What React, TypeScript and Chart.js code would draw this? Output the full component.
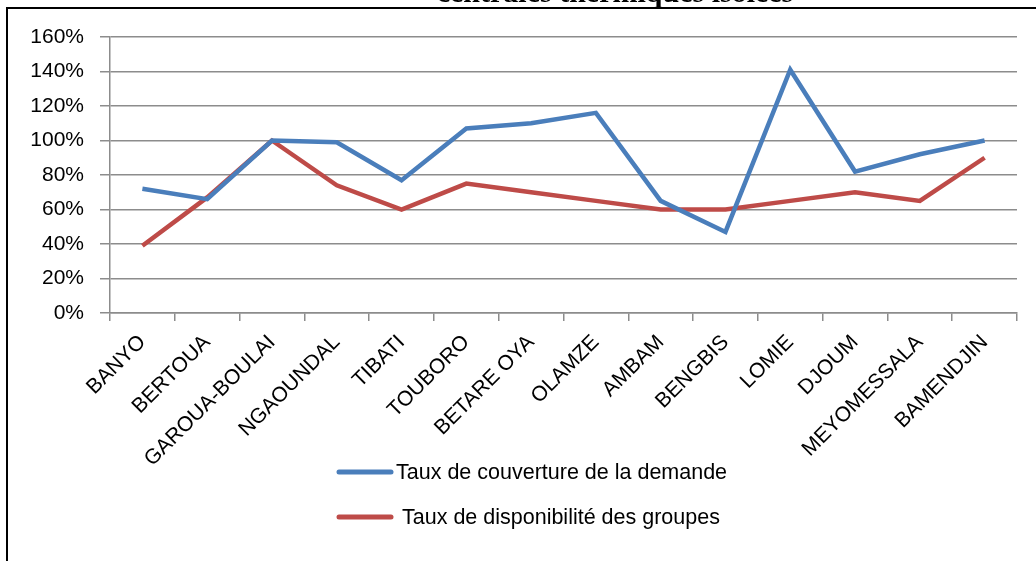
import React, { useEffect, useRef } from "react";
import { Chart, registerables } from "chart.js";

Chart.register(...registerables);

const categories = [
  "BANYO", "BERTOUA", "GAROUA-BOULAI", "NGAOUNDAL", "TIBATI", "TOUBORO", "BETARE OYA",
  "OLAMZE", "AMBAM", "BENGBIS", "LOMIE", "DJOUM", "MEYOMESSALA", "BAMENDJIN",
];
const couverture = [72, 66, 100, 99, 77, 107, 110, 116, 65, 47, 141, 82, 92, 100];
const disponibilite = [39, 67, 100, 74, 60, 75, 70, 65, 60, 60, 65, 70, 65, 90];
const seriesNames = ["Taux de couverture de la demande", "Taux de disponibilité des groupes"];
const titleText = "centrales thermiques isolées";

const FONT = "'Liberation Sans', Arial, sans-serif";

const framePlugin = {
  id: "framePlugin",
  afterDraw(chart: any) {
    const ctx = chart.ctx;
    ctx.save();
    // document border
    ctx.strokeStyle = "#000";
    ctx.lineWidth = 2;
    ctx.beginPath();
    ctx.moveTo(7, 561);
    ctx.lineTo(7, 8);
    ctx.lineTo(1036, 8);
    ctx.stroke();
    // cut-off title
    ctx.fillStyle = "#000";
    ctx.font = "bold 30px 'Liberation Serif', serif";
    ctx.textAlign = "center";
    ctx.textBaseline = "alphabetic";
    ctx.fillText(titleText, 615, 1.5);
    // legend
    const items = chart.data.datasets;
    const rows = [472, 517];
    items.forEach((ds: any, i: number) => {
      const y = rows[i];
      ctx.strokeStyle = ds.borderColor;
      ctx.lineWidth = 5;
      ctx.lineCap = "round";
      ctx.beginPath();
      ctx.moveTo(339, y);
      ctx.lineTo(391, y);
      ctx.stroke();
      ctx.fillStyle = "#000";
      ctx.font = "21.5px " + FONT;
      ctx.textAlign = "left";
      ctx.textBaseline = "middle";
      ctx.fillText(ds.label, i === 0 ? 396 : 402, y + 1);
    });
    ctx.restore();
  },
};

export default function App() {
  const ref = useRef<HTMLCanvasElement>(null);
  useEffect(() => {
    if (!ref.current) return;
    const chart = new Chart(ref.current, {
      type: "line",
      data: {
        labels: categories,
        datasets: [
          {
            label: seriesNames[0],
            data: couverture,
            borderColor: "#4A7EBB",
            backgroundColor: "#4A7EBB",
            borderWidth: 4.5,
            pointRadius: 0,
            tension: 0,
          },
          {
            label: seriesNames[1],
            data: disponibilite,
            borderColor: "#BE4B48",
            backgroundColor: "#BE4B48",
            borderWidth: 4.5,
            pointRadius: 0,
            tension: 0,
          },
        ],
      },
      options: {
        animation: false,
        responsive: false,
        maintainAspectRatio: false,
        layout: { padding: { top: 37, right: 19, left: 0, bottom: 0 } },
        plugins: {
          legend: { display: false },
          tooltip: { enabled: false },
          title: { display: false },
        },
        scales: {
          x: {
            offset: true,
            grid: {
              offset: true,
              drawOnChartArea: false,
              drawTicks: true,
              tickLength: 8,
              color: "#8C8C8C",
              lineWidth: 1.5,
            },
            border: { color: "#8C8C8C", width: 1.5 },
            ticks: {
              autoSkip: false,
              maxRotation: 45,
              minRotation: 45,
              color: "#000",
              font: { family: FONT, size: 21 },
              padding: 9,
            },
            afterFit: (scale: any) => {
              scale.height = 248;
            },
          },
          y: {
            min: 0,
            max: 160,
            grid: {
              color: "#8C8C8C",
              lineWidth: 1.5,
              drawTicks: true,
              tickLength: 10,
            },
            border: { color: "#8C8C8C", width: 1.5 },
            ticks: {
              stepSize: 20,
              color: "#000",
              font: { family: FONT, size: 21 },
              padding: 16,
              callback: (v: any) => v + "%",
            },
            afterFit: (scale: any) => {
              scale.width = 110;
            },
          },
        },
      },
      plugins: [framePlugin],
    });
    return () => chart.destroy();
  }, []);
  return (
    <div style={{ position: "fixed", left: 0, top: 0, width: 1036, height: 561, background: "#fff" }}>
      <canvas ref={ref} width={1036} height={561} style={{ width: 1036, height: 561, display: "block" }} />
    </div>
  );
}
